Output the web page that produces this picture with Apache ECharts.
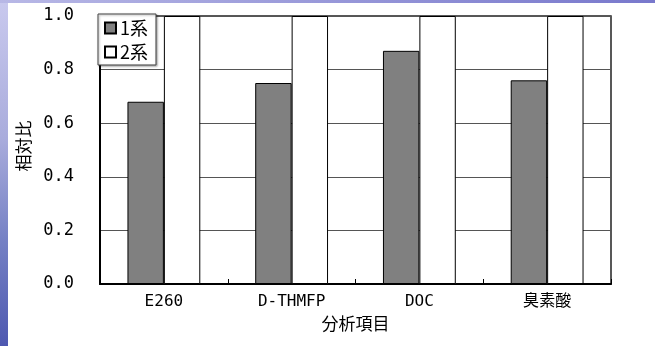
<!DOCTYPE html>
<html>
<head>
<meta charset="utf-8">
<script src="https://cdn.jsdelivr.net/npm/echarts@6/dist/echarts.min.js"></script>
<style>
html,body{margin:0;padding:0;background:#fff;}
#chart{width:655px;height:346px;}
</style>
</head>
<body>
<div id="chart"></div>
<script>
var categories = ['E260', 'D-THMFP', 'DOC', '臭素酸'];
var seriesNames = ['1系', '2系'];
var values1 = [0.68, 0.75, 0.87, 0.76];
var values2 = [1.0, 1.0, 1.0, 1.0];
var yTicks = [0, 0.2, 0.4, 0.6, 0.8, 1.0];

var chart = echarts.init(document.getElementById('chart'), null, {renderer: 'canvas'});
var option = {
  backgroundColor: '#ffffff',
  animation: false,
  graphic: [
    {type: 'rect', left: 0, top: 0, z: -10, shape: {width: 8, height: 346},
     style: {fill: new echarts.graphic.LinearGradient(0, 0, 0, 1, [
       {offset: 0, color: '#c9c9ee'}, {offset: 0.4, color: '#a9acdc'},
       {offset: 0.7, color: '#7480c4'}, {offset: 1, color: '#4e58b0'}])}},
    {type: 'rect', left: 0, top: 0, z: -10, shape: {width: 655, height: 3},
     style: {fill: new echarts.graphic.LinearGradient(0, 0, 1, 0, [
       {offset: 0, color: '#b8b8e6'}, {offset: 1, color: '#7878cc'}])}}
  ],
  grid: {left: 100, right: 44, top: 16, bottom: 62, show: true, borderColor: '#222', borderWidth: 1.5, backgroundColor: 'transparent'},
  legend: {
    orient: 'vertical', left: 98, top: 14, z: 10,
    data: seriesNames,
    backgroundColor: '#fff', borderColor: '#444', borderWidth: 1,
    shadowColor: 'rgba(0,0,0,0.35)', shadowBlur: 2, shadowOffsetX: 1, shadowOffsetY: 1,
    padding: [5, 8, 4, 6], itemGap: 6, itemWidth: 11, itemHeight: 11,
    icon: 'rect',
    textStyle: {fontFamily: 'Noto Sans CJK JP', fontSize: 18, color: '#000', padding: [0,0,0,-1]}
  },
  xAxis: {
    type: 'category', data: categories,
    axisLine: {lineStyle: {color: '#000', width: 2}},
    axisTick: {show: true, inside: true, length: 5, lineStyle: {color: '#000'}},
    axisLabel: {margin: 10, fontFamily: 'DejaVu Sans Mono, Noto Sans CJK JP', fontSize: 16, color: '#000'},
    name: '分析項目', nameLocation: 'middle', nameGap: 26,
    nameTextStyle: {fontFamily: 'Noto Sans CJK JP', fontSize: 17, color: '#000'}
  },
  yAxis: {
    type: 'value', min: yTicks[0], max: yTicks[yTicks.length - 1], interval: 0.2,
    axisLine: {show: true, lineStyle: {color: '#000', width: 2}},
    axisTick: {show: false},
    splitLine: {show: true, lineStyle: {color: '#555', width: 1}},
    axisLabel: {margin: 26, fontFamily: 'DejaVu Sans Mono', fontSize: 17, color: '#000',
      formatter: function (v) { return v.toFixed(1); }},
    name: '相対比', nameLocation: 'middle', nameGap: 66, nameRotate: 90,
    nameTextStyle: {fontFamily: 'Noto Sans CJK JP', fontSize: 17, color: '#000', padding: [0, 0, 0, 8]}
  },
  series: [
    {name: seriesNames[0], type: 'bar', data: values1, barGap: '0%', barCategoryGap: '43%',
     itemStyle: {color: '#808080', borderColor: '#000', borderWidth: 1}},
    {name: seriesNames[1], type: 'bar', data: values2, barGap: '0%', barCategoryGap: '43%',
     itemStyle: {color: '#ffffff', borderColor: '#000', borderWidth: 1}}
  ]
};
chart.setOption(option);
</script>
</body>
</html>
